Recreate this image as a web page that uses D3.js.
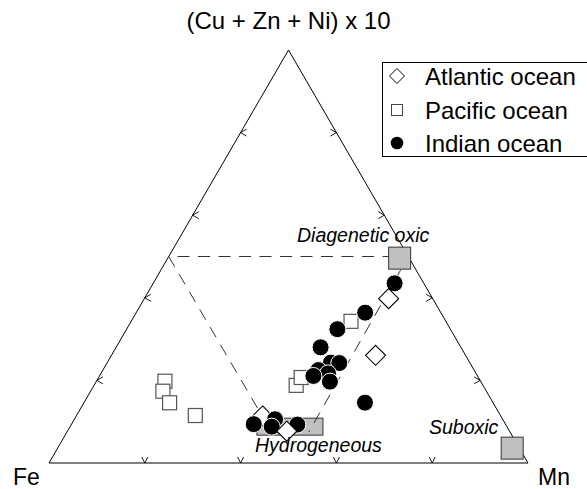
<!DOCTYPE html>
<html>
<head>
<meta charset="utf-8">
<script src="https://cdn.jsdelivr.net/npm/d3@7"></script>
<style>
  html, body { margin: 0; padding: 0; background: #fff; }
  svg { display: block; }
  text { font-family: "Liberation Sans", Arial, Helvetica, sans-serif; fill: #000; }
</style>
</head>
<body>
<svg id="chart" width="587" height="489"></svg>
<script>
// Compositions in percent: [Fe, Mn, (Cu + Zn + Ni) x 10]
const atlantic = [
  [18.8, 55.2, 26.1], [9.2, 51.0, 39.8], [49.7, 38.9, 11.4], [46.5, 45.8, 7.7]
];
const pacific = [
  [65.9, 14.3, 19.8], [67.6, 15.1, 17.4], [67.6, 17.9, 14.6], [63.7, 24.8, 11.5],
  [39.0, 42.2, 18.8], [37.0, 42.3, 20.7], [19.8, 45.9, 34.3]
];
const indian = [
  [6.1, 50.4, 43.5], [15.8, 47.8, 36.4], [23.6, 44.0, 32.4], [29.3, 42.7, 28.0],
  [27.3, 48.5, 24.2], [29.0, 46.7, 24.3], [30.9, 47.4, 21.7], [32.5, 45.0, 22.5],
  [34.3, 44.7, 21.1], [31.5, 48.8, 19.7], [26.7, 58.6, 14.6], [52.5, 38.0, 9.4],
  [47.5, 41.9, 10.6], [49.1, 42.1, 8.8], [43.5, 47.2, 9.3]
];
// Genetic end-member fields
const fieldNames = ["Diagenetic oxic", "Suboxic", "Hydrogeneous"];
const fieldCentres = [[2.0, 48.4, 49.6], [1.5, 94.9, 3.6], [45.3, 45.9, 8.8]];
// Dashed boundary: hydrogeneous -> Fe/top midline -> Mn/top edge -> hydrogeneous
const boundary = [[49.8, 41.2, 9.0], [50, 0, 50], [0, 50, 50], [42.0, 50.5, 7.5]];
const tickValues = [20, 40, 60, 80];
const vertexLabels = ["Fe", "Mn", "(Cu + Zn + Ni) x 10"];
const legendLabels = ["Atlantic ocean", "Pacific ocean", "Indian ocean"];

const svg = d3.select("#chart");
// Cartesian frame of the triangle: x runs Fe -> Mn, y is the top component share
const x = d3.scaleLinear().domain([0, 1]).range([49, 528]);
const y = d3.scaleLinear().domain([0, 1]).range([463, 50]);

function pos(c) {
  const s = c[0] + c[1] + c[2];
  const mn = c[1] / s, t = c[2] / s;
  return [x(mn + t / 2), y(t)];
}

// Triangle outline
const corners = [[100, 0, 0], [0, 100, 0], [0, 0, 100]].map(pos);
svg.append("path")
  .attr("d", d3.line()(corners) + "Z")
  .attr("fill", "none").attr("stroke", "#000").attr("stroke-width", 1);

// Arrow-head ticks on each edge
const tickG = svg.append("g").attr("fill", "none").attr("stroke", "#000").attr("stroke-width", 0.9);
tickValues.forEach(v => {
  const L = pos([100 - v, 0, v]);
  tickG.append("path").attr("d", `M${L[0] + 6},${L[1] - 3.5}L${L[0]},${L[1]}L${L[0] + 6},${L[1] + 3.5}`);
  const R = pos([0, 100 - v, v]);
  tickG.append("path").attr("d", `M${R[0] - 6},${R[1] - 3.5}L${R[0]},${R[1]}L${R[0] - 6},${R[1] + 3.5}`);
  const B = pos([100 - v, v, 0]);
  tickG.append("path").attr("d", `M${B[0] - 3},${B[1] - 6}L${B[0]},${B[1]}L${B[0] + 3},${B[1] - 6}`);
});

// Hydrogeneous field box
const hyd = pos(fieldCentres[2]);
svg.append("rect")
  .attr("x", hyd[0] - 33).attr("y", hyd[1] - 8.5)
  .attr("width", 66).attr("height", 17)
  .attr("fill", "#c0c0c0").attr("stroke", "#333").attr("stroke-width", 1);

// Dashed field boundaries
svg.append("path")
  .attr("d", d3.line()(boundary.map(pos)))
  .attr("fill", "none").attr("stroke", "#333").attr("stroke-width", 1)
  .attr("stroke-dasharray", "12,8.5");

// Diagenetic and suboxic end-member squares
[0, 1].forEach(i => {
  const p = pos(fieldCentres[i]);
  svg.append("rect")
    .attr("x", p[0] - 11).attr("y", p[1] - 11)
    .attr("width", 22).attr("height", 22)
    .attr("fill", "#c0c0c0").attr("stroke", "#333").attr("stroke-width", 1);
});

// Pacific samples: open squares
svg.append("g").selectAll("rect").data(pacific).join("rect")
  .attr("x", d => pos(d)[0] - 7).attr("y", d => pos(d)[1] - 7)
  .attr("width", 14).attr("height", 14)
  .attr("fill", "#fff").attr("stroke", "#555").attr("stroke-width", 1.2);

// Atlantic (open diamonds) and Indian (filled circles), layered top to bottom
const mixed = atlantic.map(d => ({ s: "a", d })).concat(indian.map(d => ({ s: "i", d })))
  .sort((a, b) => pos(a.d)[1] - pos(b.d)[1]);
const symG = svg.append("g");
mixed.forEach(m => {
  const p = pos(m.d);
  if (m.s === "a") {
    symG.append("path")
      .attr("d", `M${p[0]},${p[1] - 10}L${p[0] + 10},${p[1]}L${p[0]},${p[1] + 10}L${p[0] - 10},${p[1]}Z`)
      .attr("fill", "#fff").attr("stroke", "#000").attr("stroke-width", 1.1);
  } else {
    symG.append("circle")
      .attr("cx", p[0]).attr("cy", p[1]).attr("r", 8.5)
      .attr("fill", "#000").attr("stroke", "#fff").attr("stroke-width", 1);
  }
});

// Field labels
const fieldLabelPos = [[297, 242], [429, 434], [255, 452]];
fieldNames.forEach((n, i) => {
  svg.append("text")
    .attr("x", fieldLabelPos[i][0]).attr("y", fieldLabelPos[i][1])
    .attr("font-size", 19.5).attr("font-style", "italic")
    .text(n);
});

// Vertex labels
svg.append("text").attr("x", 13).attr("y", 485).attr("font-size", 23).text(vertexLabels[0]);
svg.append("text").attr("x", 538).attr("y", 485).attr("font-size", 23).text(vertexLabels[1]);
svg.append("text").attr("x", x(0.5)).attr("y", 29).attr("text-anchor", "middle")
  .attr("font-size", 24).text(vertexLabels[2]);

// Legend
const lg = svg.append("g");
lg.append("rect").attr("x", 382.5).attr("y", 62.5).attr("width", 230).attr("height", 94)
  .attr("fill", "#fff").attr("stroke", "#000").attr("stroke-width", 1);
const rowY = [76, 110, 143];
lg.append("path")
  .attr("d", `M397,${rowY[0] - 7.5}L404.5,${rowY[0]}L397,${rowY[0] + 7.5}L389.5,${rowY[0]}Z`)
  .attr("fill", "#fff").attr("stroke", "#000").attr("stroke-width", 1);
lg.append("rect").attr("x", 391.5).attr("y", rowY[1] - 5.5).attr("width", 11).attr("height", 11)
  .attr("fill", "#fff").attr("stroke", "#444").attr("stroke-width", 1);
lg.append("circle").attr("cx", 397).attr("cy", rowY[2]).attr("r", 6.3).attr("fill", "#000");
legendLabels.forEach((t, i) => {
  lg.append("text").attr("x", 425).attr("y", rowY[i] + 9).attr("font-size", 24).text(t);
});
</script>
</body>
</html>
